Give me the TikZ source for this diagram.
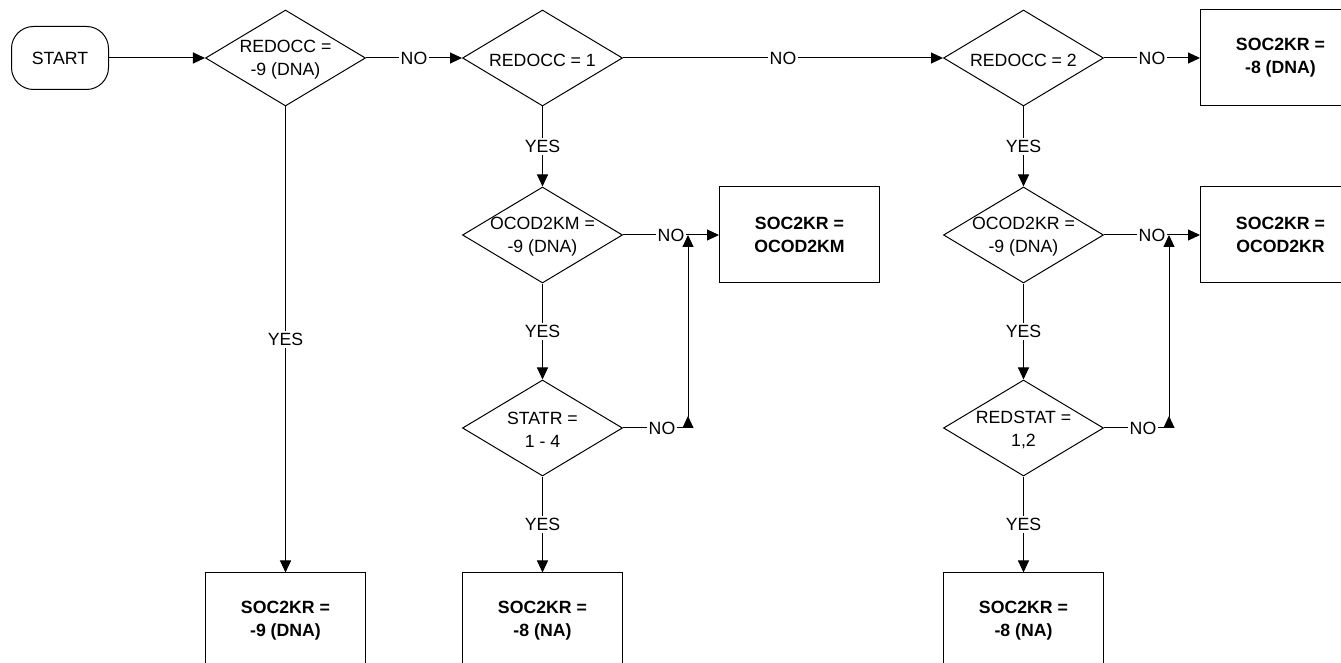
\documentclass[tikz,border=0pt]{standalone}
\usepackage{fontspec}
\setmainfont{Liberation Sans}
\usetikzlibrary{positioning,shapes.geometric,arrows.meta}

\begin{document}
\begin{tikzpicture}[
    x=0.5pt, y=-0.5pt,
    node distance=48pt,
    line width=0.5pt,
    font=\fontsize{8.85}{11.5}\selectfont,
    term/.style={rectangle, draw, rounded corners=11pt, minimum width=48.5pt, minimum height=31.5pt},
    dec/.style={diamond, draw, minimum width=80pt, minimum height=48pt, inner sep=0pt, label={[align=center, yshift=-1pt]center:{#1}}},
    res/.style={rectangle, draw, minimum width=80pt, minimum height=48pt, align=center, font=\fontsize{8.85}{11.5}\selectfont\bfseries},
    lbl/.style={fill=white, inner sep=1pt},
    arr/.style={-{Triangle[length=6pt,width=5.5pt]}}
]
\useasboundingbox (0,0) rectangle (1341,663);

% Top row
\node[term] (start) at (60,58) {START};
\node[dec={REDOCC =\\-9 (DNA)}, right=of start] (chk9) {};
\node[dec={REDOCC = 1}, right=of chk9] (chk1) {};
\node[dec={REDOCC = 2}, right=160pt of chk1] (chk2) {};
\node[res, right=of chk2] (res8dna) {SOC2KR =\\-8 (DNA)};

% REDOCC = 1 column
\node[dec={OCOD2KM =\\-9 (DNA)}, below=40pt of chk1] (ocm) {};
\node[res, right=of ocm] (resocm) {SOC2KR =\\OCOD2KM};
\node[dec={STATR =\\1 - 4}, below=of ocm] (statr) {};
\node[res, below=of statr] (res8na) {SOC2KR =\\-8 (NA)};
\node[res] (res9) at (chk9 |- res8na) {SOC2KR =\\-9 (DNA)};

% REDOCC = 2 column
\node[dec={OCOD2KR =\\-9 (DNA)}, below=40pt of chk2] (ocr) {};
\node[res, right=of ocr] (resocr) {SOC2KR =\\OCOD2KR};
\node[dec={REDSTAT =\\1,2}, below=of ocr] (redstat) {};
\node[res, below=of redstat] (res8nb) {SOC2KR =\\-8 (NA)};

% Joins of the NO branches
\coordinate[left=15.5pt of resocm.west] (jm);
\coordinate[left=15.5pt of resocr.west] (jr);

% Connectors
\draw[arr] (start) -- (chk9);
\draw[arr] (chk9) -- node[lbl]{NO} (chk1);
\draw[arr] (chk1) -- node[lbl]{NO} (chk2);
\draw[arr] (chk2) -- node[lbl]{NO} (res8dna);
\draw[arr] (chk9) -- node[lbl]{YES} (res9);

\draw[arr] (chk1) -- node[lbl]{YES} (ocm);
\draw[arr] (ocm) -- node[lbl]{NO} (resocm);
\draw[arr] (ocm) -- node[lbl]{YES} (statr);
\draw[arr] (statr) -- node[lbl]{YES} (res8na);
\draw (statr) -- node[lbl, pos=0.6]{NO} (statr -| jm);
\draw[{Triangle[reversed,length=6pt,width=5.5pt]}-{Triangle[length=6pt,width=5.5pt]}] (statr -| jm) -- (jm);

\draw[arr] (chk2) -- node[lbl]{YES} (ocr);
\draw[arr] (ocr) -- node[lbl]{NO} (resocr);
\draw[arr] (ocr) -- node[lbl]{YES} (redstat);
\draw[arr] (redstat) -- node[lbl]{YES} (res8nb);
\draw (redstat) -- node[lbl, pos=0.6]{NO} (redstat -| jr);
\draw[{Triangle[reversed,length=6pt,width=5.5pt]}-{Triangle[length=6pt,width=5.5pt]}] (redstat -| jr) -- (jr);

\end{tikzpicture}
\end{document}
